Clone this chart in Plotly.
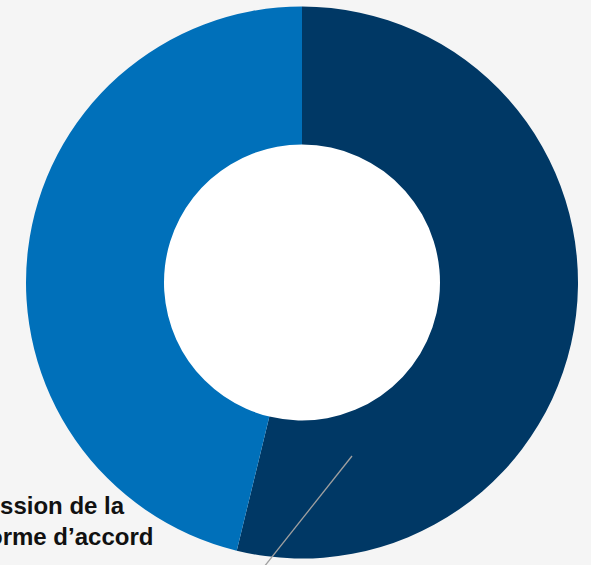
import plotly.graph_objects as go

labels = ["Plateforme d'accord", "Transmission"]
values = [53.8, 46.2]
colors = ["#003865", "#0070ba"]

W, H = 591, 565
cx, cy, r = 302, 282.5, 276
hole = 0.5
ri = r * hole

fig = go.Figure(go.Pie(
    labels=labels,
    values=values,
    hole=hole,
    sort=False,
    direction="clockwise",
    rotation=0,
    marker=dict(colors=colors, line=dict(width=0)),
    textinfo="none",
    hoverinfo="label+percent",
    showlegend=False,
    domain=dict(x=[(cx - r) / W, (cx + r) / W], y=[1 - (cy + r) / H, 1 - (cy - r) / H]),
))

# white hole fill
fig.add_shape(type="circle", xref="paper", yref="paper", layer="below",
              x0=(cx - ri - 1) / W, x1=(cx + ri + 1) / W,
              y0=1 - (cy + ri + 1) / H, y1=1 - (cy - ri - 1) / H,
              fillcolor="#ffffff", line=dict(width=0))

font = dict(family="Liberation Sans, Arial", size=24, color="#111111", weight="bold")
fig.add_annotation(text="Transmission de la", xref="paper", yref="paper",
                   x=127 / W, y=1 - 521 / H, xanchor="right", yanchor="bottom",
                   showarrow=False, font=font)
fig.add_annotation(text="plateforme d\u2019accord", xref="paper", yref="paper",
                   x=155 / W, y=1 - 552 / H, xanchor="right", yanchor="bottom",
                   showarrow=False, font=font)

fig.add_shape(type="line", xref="paper", yref="paper",
              x0=352 / W, y0=1 - 456 / H, x1=260 / W, y1=1 - 572 / H,
              line=dict(color="#a0a0a0", width=1.3))

fig.update_layout(width=W, height=H, margin=dict(l=0, r=0, t=0, b=0),
                  paper_bgcolor="#f5f5f5", plot_bgcolor="#f5f5f5")
fig.write_html("out.html", config={"displayModeBar": False},
               post_script="document.body.style.margin='0';document.body.style.overflow='hidden';")
